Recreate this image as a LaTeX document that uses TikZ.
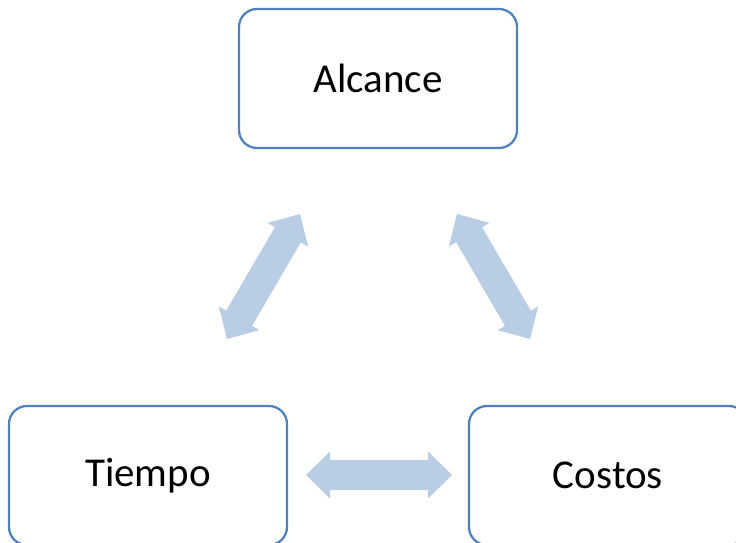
\documentclass[tikz,border=0pt]{standalone}
\usepackage{fontspec}
\setmainfont{Carlito}
\usetikzlibrary{calc}
\definecolor{boxline}{RGB}{79,129,189}
\definecolor{arrowfill}{RGB}{185,205,229}
\newcommand{\dblarr}[2]{%
  \fill[arrowfill]
    (#1)
    -- ($(#1)!24pt!(#2)!23.5pt!90:(#2)$)
    -- ($(#1)!24pt!(#2)!15pt!90:(#2)$)
    -- ($(#2)!24pt!(#1)!15pt!-90:(#1)$)
    -- ($(#2)!24pt!(#1)!23.5pt!-90:(#1)$)
    -- (#2)
    -- ($(#2)!24pt!(#1)!23.5pt!90:(#1)$)
    -- ($(#2)!24pt!(#1)!15pt!90:(#1)$)
    -- ($(#1)!24pt!(#2)!15pt!-90:(#2)$)
    -- ($(#1)!24pt!(#2)!23.5pt!-90:(#2)$)
    -- cycle;}
\tikzset{
  topic/.style={draw=boxline, line width=2.25pt, fill=white, rounded corners=18pt,
    minimum width=278pt, minimum height=139pt, inner sep=0pt,
    font=\fontsize{41}{49}\selectfont, text=black}
}
\begin{document}
\begin{tikzpicture}[x=1pt,y=-1pt]
\useasboundingbox (0,0) rectangle (736,542);
\node[topic] (alcance) at (378,78.5) {Alcance};
\node[topic] (tiempo) at (148,475.5) {Tiempo};
\node[topic] (costos) at (608,475.5) {Costos};
\coordinate (l1) at (227,339);
\coordinate (l2) at (300,214);
\coordinate (r1) at (457,214);
\coordinate (r2) at (530,339);
\coordinate (h1) at (306,475);
\coordinate (h2) at (452,475);
\dblarr{l1}{l2}
\dblarr{r1}{r2}
\dblarr{h1}{h2}
\end{tikzpicture}
\end{document}
